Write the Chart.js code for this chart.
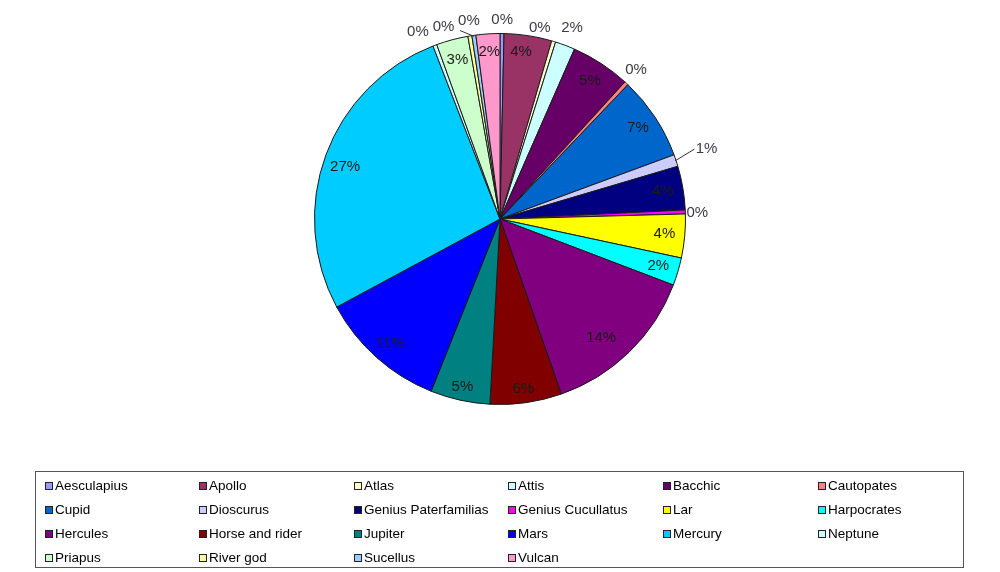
<!DOCTYPE html>
<html>
<head>
<meta charset="utf-8">
<script src="https://cdn.jsdelivr.net/npm/chart.js@4.4.0/dist/chart.umd.min.js"></script>
<style>
  html, body { margin: 0; padding: 0; background: #fff; }
  #wrap { position: relative; width: 1000px; height: 572px; overflow: hidden; }
  #c { position: absolute; left: 0; top: 0; }
  #legend {
    position: absolute; left: 35px; top: 471px; width: 929px; height: 97px;
    border: 1px solid #555; box-sizing: border-box;
    font-family: "Liberation Sans", Arial, sans-serif; font-size: 13.5px; color: #000;
  }
  .item { position: absolute; height: 16px; line-height: 16px; white-space: nowrap; }
  .sw { position: absolute; left: 0; top: 4px; width: 6px; height: 6px; border: 1px solid #222; }
  .tx { position: absolute; left: 10px; top: 0; }
</style>
</head>
<body>
<div id="wrap">
  <canvas id="c" width="1000" height="572"></canvas>
  <div id="legend"></div>
</div>
<script>
// ---- data ----
const categories = ["Aesculapius", "Apollo", "Atlas", "Attis", "Bacchic", "Cautopates",
  "Cupid", "Dioscurus", "Genius Paterfamilias", "Genius Cucullatus", "Lar", "Harpocrates",
  "Hercules", "Horse and rider", "Jupiter", "Mars", "Mercury", "Neptune",
  "Priapus", "River god", "Sucellus", "Vulcan"];
const counts = [1, 12, 1, 5, 15, 1, 21, 3, 11, 1, 11, 7, 40, 18, 15, 32, 78, 1, 8, 1, 1, 6];

// ---- styles ----
const colors = ["#9999FF", "#993366", "#FFFFCC", "#CCFFFF", "#660066", "#FF8080",
  "#0066CC", "#CCCCFF", "#000080", "#FF00FF", "#FFFF00", "#00FFFF",
  "#800080", "#800000", "#008080", "#0000FF", "#00CCFF", "#CCFFFF",
  "#CCFFCC", "#FFFF99", "#99CCFF", "#FF99CC"];
// label placement: true = outside the pie
const labelOutside = [true, false, true, true, false, true, false, true, false, true, false, false,
  false, false, false, false, false, true, false, true, true, false];
// extra radial gap for outside labels, pixel nudges, and leader lines
const labelGap = [14, 0, 14, 14, 0, 14, 0, 30, 0, 14, 0, 0, 0, 0, 0, 0, 0, 14, 0, 14, 14, 0];
const labelNudge = [[0,0],[-4,-4],[-18,0],[2,-4],[0,0],[0,-3],[0,0],[2,-2],[0,0],[-2,1],[0,0],[0,0],
  [-14,1],[0,6],[-2,7],[0,2],[0,5],[-12,0],[0,0],[-24,5],[-3,-1],[0,-2]];
const labelLeader = [false,false,false,false,false,false,false,true,false,false,false,false,
  false,false,false,false,false,false,false,false,true,false];

const total = counts.reduce((a, b) => a + b, 0);

const labelPlugin = {
  id: 'pctLabels',
  afterDatasetsDraw(chart) {
    const ctx = chart.ctx;
    const meta = chart.getDatasetMeta(0);
    ctx.save();
    ctx.font = '15px "Liberation Sans", Arial, sans-serif';
    ctx.textAlign = 'center';
    ctx.textBaseline = 'middle';
    meta.data.forEach((arc, i) => {
      const p = arc.getProps(['x', 'y', 'startAngle', 'endAngle', 'outerRadius'], true);
      const mid = (p.startAngle + p.endAngle) / 2;
      const txt = Math.round(counts[i] / total * 100) + '%';
      let r, col;
      if (labelOutside[i]) { r = p.outerRadius + labelGap[i]; col = '#3a3a44'; }
      else { r = p.outerRadius * 0.89; col = '#1a1a1a'; }
      const lx = p.x + Math.cos(mid) * r + labelNudge[i][0];
      const ly = p.y + Math.sin(mid) * r + labelNudge[i][1];
      if (labelLeader[i]) {
        const ex = p.x + Math.cos(mid) * (p.outerRadius - 1);
        const ey = p.y + Math.sin(mid) * (p.outerRadius - 1);
        ctx.beginPath();
        ctx.strokeStyle = '#333';
        ctx.lineWidth = 1;
        ctx.moveTo(ex, ey);
        if (i === 7) { ctx.lineTo(lx - 12, ly); }
        else { ctx.lineTo(lx - 9, ly + 10); }
        ctx.stroke();
      }
      ctx.fillStyle = col;
      ctx.fillText(txt, lx, ly);
    });
    ctx.restore();
  }
};

new Chart(document.getElementById('c'), {
  type: 'pie',
  data: {
    labels: categories,
    datasets: [{
      data: counts,
      backgroundColor: colors,
      borderColor: '#1a1a1a',
      borderWidth: 1
    }]
  },
  options: {
    responsive: false,
    animation: false,
    layout: { padding: { top: 33, bottom: 167, left: 0, right: 0 } },
    plugins: { legend: { display: false }, tooltip: { enabled: false } }
  },
  plugins: [labelPlugin]
});

// HTML legend built from the same arrays (6 columns, row-major)
const legend = document.getElementById('legend');
const colX = [9, 163, 318, 472, 627, 782];
const rowY = [6, 30, 54, 78];
categories.forEach((name, i) => {
  const it = document.createElement('div');
  it.className = 'item';
  it.style.left = colX[i % 6] + 'px';
  it.style.top = rowY[Math.floor(i / 6)] + 'px';
  const sw = document.createElement('div');
  sw.className = 'sw';
  sw.style.background = colors[i];
  const tx = document.createElement('span');
  tx.className = 'tx';
  tx.textContent = name;
  it.appendChild(sw);
  it.appendChild(tx);
  legend.appendChild(it);
});
</script>
</body>
</html>
